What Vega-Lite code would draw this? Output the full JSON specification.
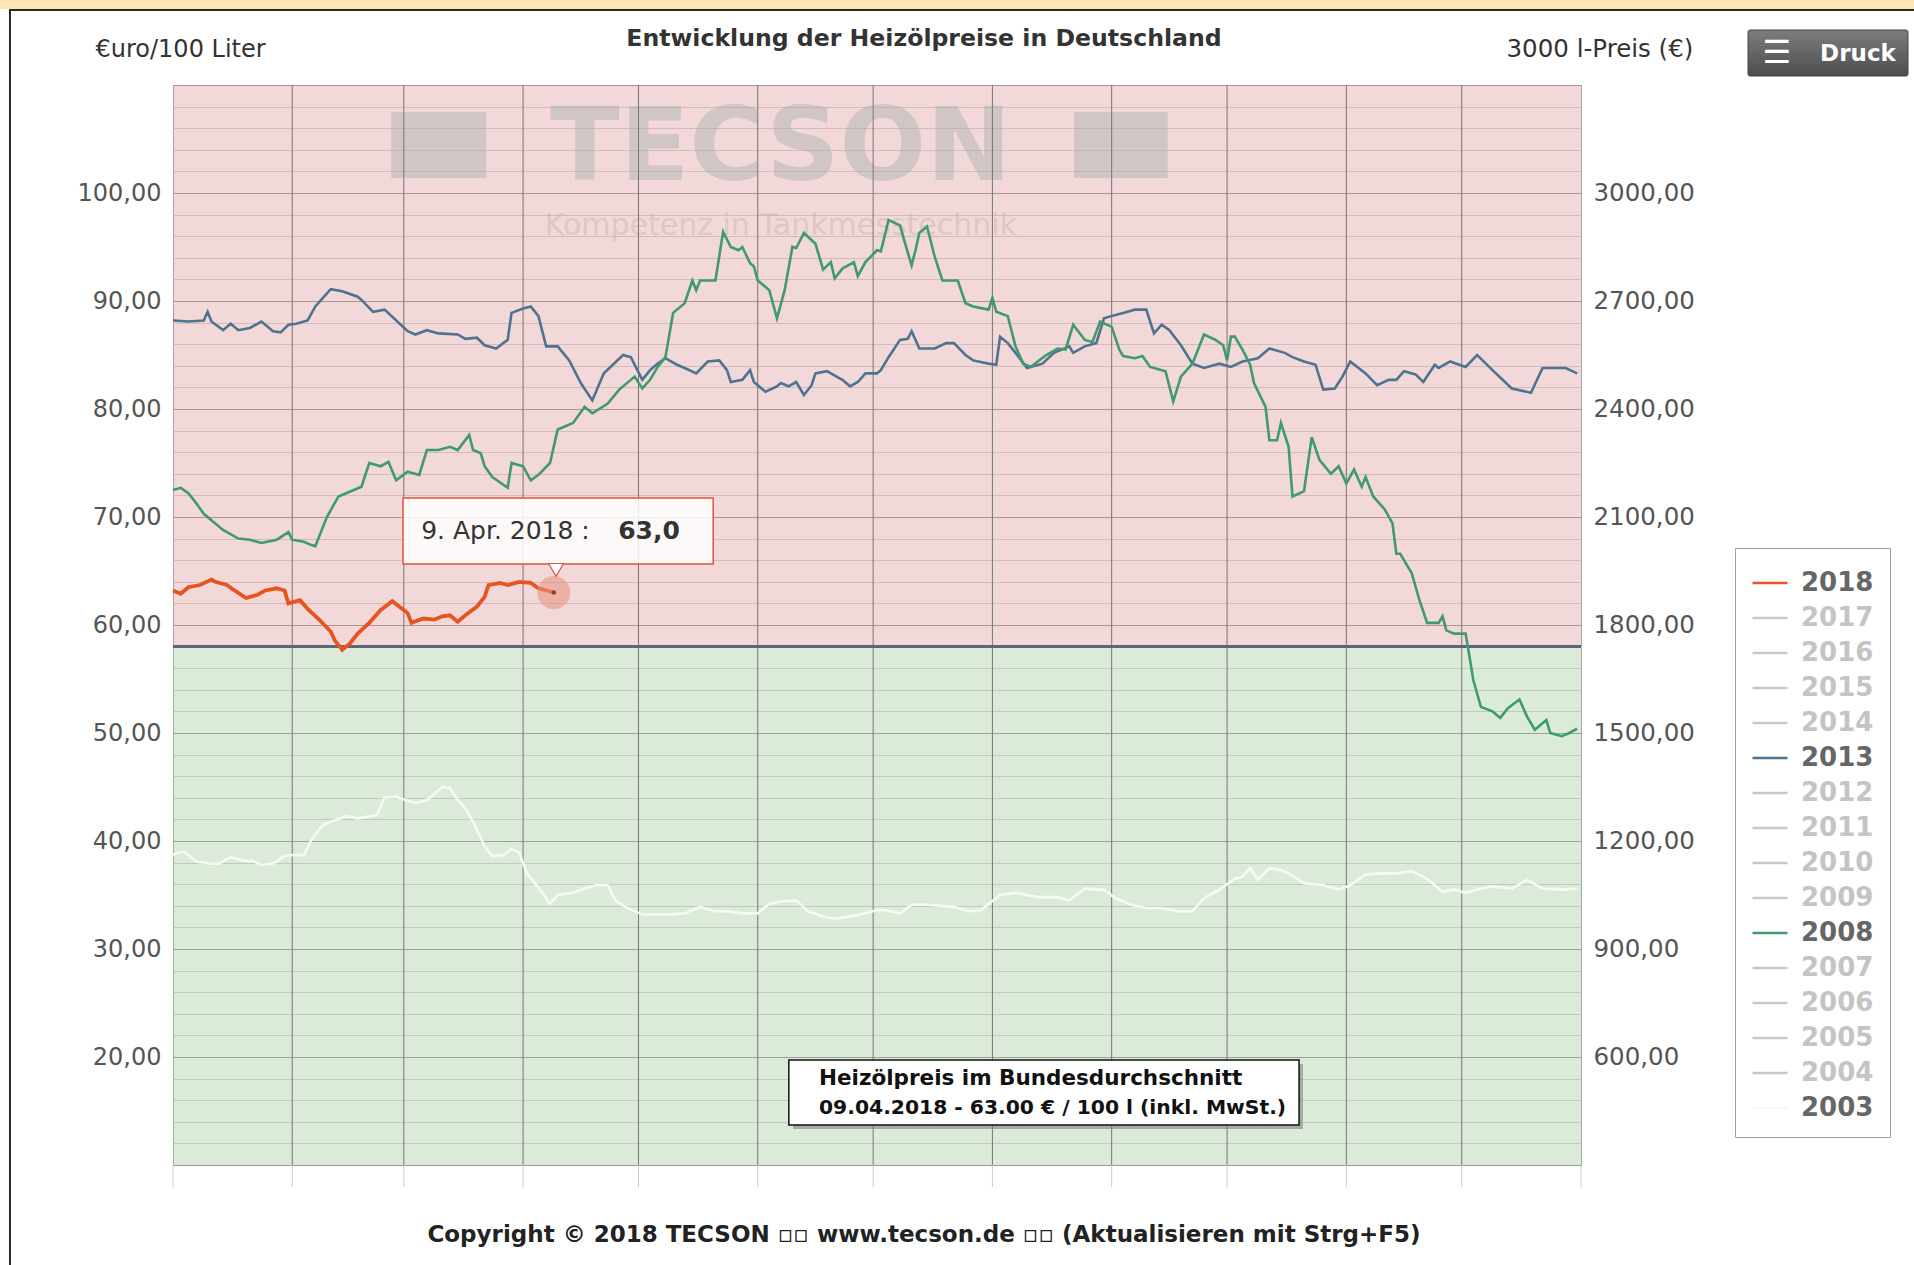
{
"$schema": "https://vega.github.io/schema/vega-lite/v6.json",
"width": 1408, "height": 1080,
"autosize": {"type": "none"},
"padding": {"left": 173, "top": 85, "right": 333, "bottom": 100},
"background": "#ffffff",
"config": {"view": {"stroke": "#a8a8a8", "strokeWidth": 1}, "font": "DejaVu Sans"},
"datasets": {"preise": [
{"jahr":"2018","tag":"2018/01/01","preis":63.2},{"jahr":"2018","tag":"2018/01/03","preis":62.9},{"jahr":"2018","tag":"2018/01/05","preis":63.5},{"jahr":"2018","tag":"2018/01/08","preis":63.7},{"jahr":"2018","tag":"2018/01/11","preis":64.2},{"jahr":"2018","tag":"2018/01/12","preis":64.0},{"jahr":"2018","tag":"2018/01/15","preis":63.7},{"jahr":"2018","tag":"2018/01/17","preis":63.2},{"jahr":"2018","tag":"2018/01/20","preis":62.5},{"jahr":"2018","tag":"2018/01/23","preis":62.8},{"jahr":"2018","tag":"2018/01/25","preis":63.2},{"jahr":"2018","tag":"2018/01/28","preis":63.4},{"jahr":"2018","tag":"2018/01/30","preis":63.2},{"jahr":"2018","tag":"2018/01/31","preis":62.0},{"jahr":"2018","tag":"2018/02/03","preis":62.3},{"jahr":"2018","tag":"2018/02/05","preis":61.5},{"jahr":"2018","tag":"2018/02/08","preis":60.5},{"jahr":"2018","tag":"2018/02/11","preis":59.4},{"jahr":"2018","tag":"2018/02/12","preis":58.6},{"jahr":"2018","tag":"2018/02/14","preis":57.7},{"jahr":"2018","tag":"2018/02/16","preis":58.3},{"jahr":"2018","tag":"2018/02/18","preis":59.2},{"jahr":"2018","tag":"2018/02/21","preis":60.2},{"jahr":"2018","tag":"2018/02/24","preis":61.4},{"jahr":"2018","tag":"2018/02/27","preis":62.2},{"jahr":"2018","tag":"2018/03/02","preis":61.1},{"jahr":"2018","tag":"2018/03/03","preis":60.2},{"jahr":"2018","tag":"2018/03/06","preis":60.6},{"jahr":"2018","tag":"2018/03/09","preis":60.5},{"jahr":"2018","tag":"2018/03/11","preis":60.8},{"jahr":"2018","tag":"2018/03/13","preis":60.9},{"jahr":"2018","tag":"2018/03/15","preis":60.3},{"jahr":"2018","tag":"2018/03/17","preis":60.9},{"jahr":"2018","tag":"2018/03/20","preis":61.7},{"jahr":"2018","tag":"2018/03/22","preis":62.6},{"jahr":"2018","tag":"2018/03/23","preis":63.7},{"jahr":"2018","tag":"2018/03/26","preis":63.9},{"jahr":"2018","tag":"2018/03/28","preis":63.7},{"jahr":"2018","tag":"2018/03/31","preis":64.0},{"jahr":"2018","tag":"2018/04/03","preis":63.9},{"jahr":"2018","tag":"2018/04/05","preis":63.4},{"jahr":"2018","tag":"2018/04/08","preis":63.1},{"jahr":"2018","tag":"2018/04/09","preis":63.0},
{"jahr":"2013","tag":"2013/01/01","preis":88.2},{"jahr":"2013","tag":"2013/01/05","preis":88.1},{"jahr":"2013","tag":"2013/01/09","preis":88.2},{"jahr":"2013","tag":"2013/01/10","preis":89.0},{"jahr":"2013","tag":"2013/01/11","preis":88.1},{"jahr":"2013","tag":"2013/01/14","preis":87.3},{"jahr":"2013","tag":"2013/01/16","preis":87.9},{"jahr":"2013","tag":"2013/01/18","preis":87.3},{"jahr":"2013","tag":"2013/01/21","preis":87.5},{"jahr":"2013","tag":"2013/01/24","preis":88.1},{"jahr":"2013","tag":"2013/01/27","preis":87.2},{"jahr":"2013","tag":"2013/01/29","preis":87.1},{"jahr":"2013","tag":"2013/01/31","preis":87.8},{"jahr":"2013","tag":"2013/02/02","preis":87.9},{"jahr":"2013","tag":"2013/02/05","preis":88.2},{"jahr":"2013","tag":"2013/02/07","preis":89.5},{"jahr":"2013","tag":"2013/02/11","preis":91.1},{"jahr":"2013","tag":"2013/02/14","preis":90.9},{"jahr":"2013","tag":"2013/02/18","preis":90.4},{"jahr":"2013","tag":"2013/02/19","preis":90.1},{"jahr":"2013","tag":"2013/02/22","preis":89.0},{"jahr":"2013","tag":"2013/02/25","preis":89.2},{"jahr":"2013","tag":"2013/03/02","preis":87.2},{"jahr":"2013","tag":"2013/03/04","preis":86.9},{"jahr":"2013","tag":"2013/03/07","preis":87.3},{"jahr":"2013","tag":"2013/03/10","preis":87.0},{"jahr":"2013","tag":"2013/03/15","preis":86.9},{"jahr":"2013","tag":"2013/03/17","preis":86.5},{"jahr":"2013","tag":"2013/03/20","preis":86.6},{"jahr":"2013","tag":"2013/03/22","preis":85.9},{"jahr":"2013","tag":"2013/03/25","preis":85.6},{"jahr":"2013","tag":"2013/03/28","preis":86.4},{"jahr":"2013","tag":"2013/03/29","preis":88.9},{"jahr":"2013","tag":"2013/04/01","preis":89.3},{"jahr":"2013","tag":"2013/04/03","preis":89.5},{"jahr":"2013","tag":"2013/04/05","preis":88.6},{"jahr":"2013","tag":"2013/04/07","preis":85.8},{"jahr":"2013","tag":"2013/04/10","preis":85.8},{"jahr":"2013","tag":"2013/04/13","preis":84.5},{"jahr":"2013","tag":"2013/04/16","preis":82.4},{"jahr":"2013","tag":"2013/04/19","preis":80.8},{"jahr":"2013","tag":"2013/04/22","preis":83.3},{"jahr":"2013","tag":"2013/04/27","preis":85.0},{"jahr":"2013","tag":"2013/04/29","preis":84.8},{"jahr":"2013","tag":"2013/05/02","preis":82.7},{"jahr":"2013","tag":"2013/05/04","preis":83.6},{"jahr":"2013","tag":"2013/05/06","preis":84.2},{"jahr":"2013","tag":"2013/05/08","preis":84.7},{"jahr":"2013","tag":"2013/05/11","preis":84.1},{"jahr":"2013","tag":"2013/05/13","preis":83.8},{"jahr":"2013","tag":"2013/05/16","preis":83.3},{"jahr":"2013","tag":"2013/05/19","preis":84.4},{"jahr":"2013","tag":"2013/05/22","preis":84.5},{"jahr":"2013","tag":"2013/05/24","preis":83.6},{"jahr":"2013","tag":"2013/05/25","preis":82.5},{"jahr":"2013","tag":"2013/05/28","preis":82.7},{"jahr":"2013","tag":"2013/05/30","preis":83.6},{"jahr":"2013","tag":"2013/05/31","preis":82.5},{"jahr":"2013","tag":"2013/06/03","preis":81.6},{"jahr":"2013","tag":"2013/06/06","preis":82.1},{"jahr":"2013","tag":"2013/06/07","preis":82.4},{"jahr":"2013","tag":"2013/06/09","preis":82.1},{"jahr":"2013","tag":"2013/06/11","preis":82.5},{"jahr":"2013","tag":"2013/06/13","preis":81.3},{"jahr":"2013","tag":"2013/06/15","preis":82.2},{"jahr":"2013","tag":"2013/06/16","preis":83.3},{"jahr":"2013","tag":"2013/06/19","preis":83.5},{"jahr":"2013","tag":"2013/06/20","preis":83.3},{"jahr":"2013","tag":"2013/06/23","preis":82.7},{"jahr":"2013","tag":"2013/06/25","preis":82.1},{"jahr":"2013","tag":"2013/06/27","preis":82.5},{"jahr":"2013","tag":"2013/06/29","preis":83.3},{"jahr":"2013","tag":"2013/07/02","preis":83.3},{"jahr":"2013","tag":"2013/07/03","preis":83.6},{"jahr":"2013","tag":"2013/07/05","preis":84.8},{"jahr":"2013","tag":"2013/07/08","preis":86.4},{"jahr":"2013","tag":"2013/07/10","preis":86.5},{"jahr":"2013","tag":"2013/07/11","preis":87.2},{"jahr":"2013","tag":"2013/07/13","preis":85.6},{"jahr":"2013","tag":"2013/07/15","preis":85.6},{"jahr":"2013","tag":"2013/07/17","preis":85.6},{"jahr":"2013","tag":"2013/07/20","preis":86.1},{"jahr":"2013","tag":"2013/07/22","preis":86.1},{"jahr":"2013","tag":"2013/07/25","preis":85.0},{"jahr":"2013","tag":"2013/07/27","preis":84.5},{"jahr":"2013","tag":"2013/07/31","preis":84.2},{"jahr":"2013","tag":"2013/08/02","preis":84.1},{"jahr":"2013","tag":"2013/08/03","preis":86.7},{"jahr":"2013","tag":"2013/08/05","preis":86.1},{"jahr":"2013","tag":"2013/08/07","preis":85.2},{"jahr":"2013","tag":"2013/08/10","preis":83.8},{"jahr":"2013","tag":"2013/08/14","preis":84.2},{"jahr":"2013","tag":"2013/08/17","preis":85.2},{"jahr":"2013","tag":"2013/08/21","preis":85.8},{"jahr":"2013","tag":"2013/08/22","preis":85.2},{"jahr":"2013","tag":"2013/08/25","preis":85.8},{"jahr":"2013","tag":"2013/08/28","preis":86.1},{"jahr":"2013","tag":"2013/08/30","preis":88.4},{"jahr":"2013","tag":"2013/09/01","preis":88.6},{"jahr":"2013","tag":"2013/09/04","preis":88.9},{"jahr":"2013","tag":"2013/09/07","preis":89.2},{"jahr":"2013","tag":"2013/09/10","preis":89.2},{"jahr":"2013","tag":"2013/09/12","preis":87.0},{"jahr":"2013","tag":"2013/09/14","preis":87.8},{"jahr":"2013","tag":"2013/09/16","preis":87.3},{"jahr":"2013","tag":"2013/09/19","preis":85.9},{"jahr":"2013","tag":"2013/09/22","preis":84.2},{"jahr":"2013","tag":"2013/09/25","preis":83.8},{"jahr":"2013","tag":"2013/09/29","preis":84.2},{"jahr":"2013","tag":"2013/10/02","preis":83.9},{"jahr":"2013","tag":"2013/10/05","preis":84.4},{"jahr":"2013","tag":"2013/10/09","preis":84.7},{"jahr":"2013","tag":"2013/10/12","preis":85.6},{"jahr":"2013","tag":"2013/10/16","preis":85.2},{"jahr":"2013","tag":"2013/10/18","preis":84.8},{"jahr":"2013","tag":"2013/10/21","preis":84.4},{"jahr":"2013","tag":"2013/10/24","preis":84.1},{"jahr":"2013","tag":"2013/10/26","preis":81.8},{"jahr":"2013","tag":"2013/10/29","preis":81.9},{"jahr":"2013","tag":"2013/10/31","preis":83.0},{"jahr":"2013","tag":"2013/11/02","preis":84.4},{"jahr":"2013","tag":"2013/11/06","preis":83.3},{"jahr":"2013","tag":"2013/11/09","preis":82.2},{"jahr":"2013","tag":"2013/11/12","preis":82.7},{"jahr":"2013","tag":"2013/11/14","preis":82.7},{"jahr":"2013","tag":"2013/11/16","preis":83.5},{"jahr":"2013","tag":"2013/11/19","preis":83.2},{"jahr":"2013","tag":"2013/11/21","preis":82.5},{"jahr":"2013","tag":"2013/11/24","preis":84.1},{"jahr":"2013","tag":"2013/11/25","preis":83.8},{"jahr":"2013","tag":"2013/11/28","preis":84.4},{"jahr":"2013","tag":"2013/12/02","preis":83.9},{"jahr":"2013","tag":"2013/12/05","preis":85.0},{"jahr":"2013","tag":"2013/12/09","preis":83.6},{"jahr":"2013","tag":"2013/12/14","preis":81.9},{"jahr":"2013","tag":"2013/12/19","preis":81.5},{"jahr":"2013","tag":"2013/12/22","preis":83.8},{"jahr":"2013","tag":"2013/12/28","preis":83.8},{"jahr":"2013","tag":"2013/12/31","preis":83.3},
{"jahr":"2008","tag":"2008/01/01","preis":72.5},{"jahr":"2008","tag":"2008/01/03","preis":72.7},{"jahr":"2008","tag":"2008/01/05","preis":72.2},{"jahr":"2008","tag":"2008/01/07","preis":71.3},{"jahr":"2008","tag":"2008/01/09","preis":70.3},{"jahr":"2008","tag":"2008/01/12","preis":69.4},{"jahr":"2008","tag":"2008/01/14","preis":68.8},{"jahr":"2008","tag":"2008/01/18","preis":68.0},{"jahr":"2008","tag":"2008/01/21","preis":67.9},{"jahr":"2008","tag":"2008/01/24","preis":67.6},{"jahr":"2008","tag":"2008/01/28","preis":67.9},{"jahr":"2008","tag":"2008/01/31","preis":68.6},{"jahr":"2008","tag":"2008/02/01","preis":67.9},{"jahr":"2008","tag":"2008/02/04","preis":67.7},{"jahr":"2008","tag":"2008/02/06","preis":67.4},{"jahr":"2008","tag":"2008/02/07","preis":67.3},{"jahr":"2008","tag":"2008/02/10","preis":70.0},{"jahr":"2008","tag":"2008/02/13","preis":71.9},{"jahr":"2008","tag":"2008/02/17","preis":72.5},{"jahr":"2008","tag":"2008/02/19","preis":72.8},{"jahr":"2008","tag":"2008/02/21","preis":75.0},{"jahr":"2008","tag":"2008/02/24","preis":74.7},{"jahr":"2008","tag":"2008/02/26","preis":75.1},{"jahr":"2008","tag":"2008/02/28","preis":73.4},{"jahr":"2008","tag":"2008/03/02","preis":74.2},{"jahr":"2008","tag":"2008/03/05","preis":73.9},{"jahr":"2008","tag":"2008/03/07","preis":76.2},{"jahr":"2008","tag":"2008/03/10","preis":76.2},{"jahr":"2008","tag":"2008/03/13","preis":76.5},{"jahr":"2008","tag":"2008/03/15","preis":76.2},{"jahr":"2008","tag":"2008/03/18","preis":77.6},{"jahr":"2008","tag":"2008/03/19","preis":76.2},{"jahr":"2008","tag":"2008/03/21","preis":75.9},{"jahr":"2008","tag":"2008/03/22","preis":74.7},{"jahr":"2008","tag":"2008/03/24","preis":73.7},{"jahr":"2008","tag":"2008/03/28","preis":72.7},{"jahr":"2008","tag":"2008/03/29","preis":75.0},{"jahr":"2008","tag":"2008/04/01","preis":74.7},{"jahr":"2008","tag":"2008/04/03","preis":73.4},{"jahr":"2008","tag":"2008/04/05","preis":73.9},{"jahr":"2008","tag":"2008/04/08","preis":75.0},{"jahr":"2008","tag":"2008/04/10","preis":78.1},{"jahr":"2008","tag":"2008/04/14","preis":78.7},{"jahr":"2008","tag":"2008/04/17","preis":80.2},{"jahr":"2008","tag":"2008/04/19","preis":79.6},{"jahr":"2008","tag":"2008/04/23","preis":80.5},{"jahr":"2008","tag":"2008/04/26","preis":81.8},{"jahr":"2008","tag":"2008/04/30","preis":83.0},{"jahr":"2008","tag":"2008/05/02","preis":81.9},{"jahr":"2008","tag":"2008/05/04","preis":82.7},{"jahr":"2008","tag":"2008/05/06","preis":83.9},{"jahr":"2008","tag":"2008/05/08","preis":84.8},{"jahr":"2008","tag":"2008/05/10","preis":88.9},{"jahr":"2008","tag":"2008/05/13","preis":89.8},{"jahr":"2008","tag":"2008/05/15","preis":91.9},{"jahr":"2008","tag":"2008/05/16","preis":91.0},{"jahr":"2008","tag":"2008/05/17","preis":91.9},{"jahr":"2008","tag":"2008/05/21","preis":91.9},{"jahr":"2008","tag":"2008/05/23","preis":96.4},{"jahr":"2008","tag":"2008/05/25","preis":95.0},{"jahr":"2008","tag":"2008/05/27","preis":94.7},{"jahr":"2008","tag":"2008/05/28","preis":95.0},{"jahr":"2008","tag":"2008/05/30","preis":93.5},{"jahr":"2008","tag":"2008/05/31","preis":93.2},{"jahr":"2008","tag":"2008/06/01","preis":91.9},{"jahr":"2008","tag":"2008/06/04","preis":91.0},{"jahr":"2008","tag":"2008/06/06","preis":88.4},{"jahr":"2008","tag":"2008/06/08","preis":91.0},{"jahr":"2008","tag":"2008/06/10","preis":95.0},{"jahr":"2008","tag":"2008/06/11","preis":94.9},{"jahr":"2008","tag":"2008/06/13","preis":96.3},{"jahr":"2008","tag":"2008/06/16","preis":95.3},{"jahr":"2008","tag":"2008/06/18","preis":92.9},{"jahr":"2008","tag":"2008/06/20","preis":93.6},{"jahr":"2008","tag":"2008/06/21","preis":92.1},{"jahr":"2008","tag":"2008/06/23","preis":93.0},{"jahr":"2008","tag":"2008/06/26","preis":93.6},{"jahr":"2008","tag":"2008/06/27","preis":92.3},{"jahr":"2008","tag":"2008/06/29","preis":93.6},{"jahr":"2008","tag":"2008/07/02","preis":94.7},{"jahr":"2008","tag":"2008/07/03","preis":94.6},{"jahr":"2008","tag":"2008/07/05","preis":97.5},{"jahr":"2008","tag":"2008/07/08","preis":97.0},{"jahr":"2008","tag":"2008/07/09","preis":95.7},{"jahr":"2008","tag":"2008/07/11","preis":93.3},{"jahr":"2008","tag":"2008/07/12","preis":94.7},{"jahr":"2008","tag":"2008/07/13","preis":96.3},{"jahr":"2008","tag":"2008/07/15","preis":96.9},{"jahr":"2008","tag":"2008/07/17","preis":94.1},{"jahr":"2008","tag":"2008/07/19","preis":91.9},{"jahr":"2008","tag":"2008/07/23","preis":91.9},{"jahr":"2008","tag":"2008/07/25","preis":89.8},{"jahr":"2008","tag":"2008/07/27","preis":89.5},{"jahr":"2008","tag":"2008/07/31","preis":89.2},{"jahr":"2008","tag":"2008/08/01","preis":90.3},{"jahr":"2008","tag":"2008/08/02","preis":89.0},{"jahr":"2008","tag":"2008/08/05","preis":88.6},{"jahr":"2008","tag":"2008/08/07","preis":85.8},{"jahr":"2008","tag":"2008/08/09","preis":84.2},{"jahr":"2008","tag":"2008/08/11","preis":83.9},{"jahr":"2008","tag":"2008/08/15","preis":85.0},{"jahr":"2008","tag":"2008/08/18","preis":85.6},{"jahr":"2008","tag":"2008/08/20","preis":85.5},{"jahr":"2008","tag":"2008/08/22","preis":87.8},{"jahr":"2008","tag":"2008/08/25","preis":86.4},{"jahr":"2008","tag":"2008/08/27","preis":86.2},{"jahr":"2008","tag":"2008/08/29","preis":88.1},{"jahr":"2008","tag":"2008/09/01","preis":87.6},{"jahr":"2008","tag":"2008/09/03","preis":85.5},{"jahr":"2008","tag":"2008/09/04","preis":84.9},{"jahr":"2008","tag":"2008/09/07","preis":84.7},{"jahr":"2008","tag":"2008/09/09","preis":84.9},{"jahr":"2008","tag":"2008/09/11","preis":83.9},{"jahr":"2008","tag":"2008/09/15","preis":83.5},{"jahr":"2008","tag":"2008/09/17","preis":80.7},{"jahr":"2008","tag":"2008/09/19","preis":83.0},{"jahr":"2008","tag":"2008/09/22","preis":84.2},{"jahr":"2008","tag":"2008/09/25","preis":86.9},{"jahr":"2008","tag":"2008/09/28","preis":86.4},{"jahr":"2008","tag":"2008/09/30","preis":85.9},{"jahr":"2008","tag":"2008/10/01","preis":84.5},{"jahr":"2008","tag":"2008/10/02","preis":86.7},{"jahr":"2008","tag":"2008/10/03","preis":86.7},{"jahr":"2008","tag":"2008/10/05","preis":85.5},{"jahr":"2008","tag":"2008/10/07","preis":84.1},{"jahr":"2008","tag":"2008/10/08","preis":82.4},{"jahr":"2008","tag":"2008/10/11","preis":80.2},{"jahr":"2008","tag":"2008/10/12","preis":77.1},{"jahr":"2008","tag":"2008/10/14","preis":77.1},{"jahr":"2008","tag":"2008/10/15","preis":78.7},{"jahr":"2008","tag":"2008/10/17","preis":76.5},{"jahr":"2008","tag":"2008/10/18","preis":71.9},{"jahr":"2008","tag":"2008/10/21","preis":72.4},{"jahr":"2008","tag":"2008/10/23","preis":77.4},{"jahr":"2008","tag":"2008/10/25","preis":75.3},{"jahr":"2008","tag":"2008/10/28","preis":74.0},{"jahr":"2008","tag":"2008/10/30","preis":74.7},{"jahr":"2008","tag":"2008/11/01","preis":73.1},{"jahr":"2008","tag":"2008/11/03","preis":74.4},{"jahr":"2008","tag":"2008/11/05","preis":72.8},{"jahr":"2008","tag":"2008/11/06","preis":73.7},{"jahr":"2008","tag":"2008/11/08","preis":71.9},{"jahr":"2008","tag":"2008/11/11","preis":70.7},{"jahr":"2008","tag":"2008/11/13","preis":69.4},{"jahr":"2008","tag":"2008/11/14","preis":66.6},{"jahr":"2008","tag":"2008/11/15","preis":66.6},{"jahr":"2008","tag":"2008/11/18","preis":64.8},{"jahr":"2008","tag":"2008/11/20","preis":62.3},{"jahr":"2008","tag":"2008/11/22","preis":60.2},{"jahr":"2008","tag":"2008/11/25","preis":60.2},{"jahr":"2008","tag":"2008/11/26","preis":60.8},{"jahr":"2008","tag":"2008/11/27","preis":59.5},{"jahr":"2008","tag":"2008/11/29","preis":59.2},{"jahr":"2008","tag":"2008/12/02","preis":59.2},{"jahr":"2008","tag":"2008/12/03","preis":57.1},{"jahr":"2008","tag":"2008/12/04","preis":54.9},{"jahr":"2008","tag":"2008/12/06","preis":52.4},{"jahr":"2008","tag":"2008/12/09","preis":52.0},{"jahr":"2008","tag":"2008/12/11","preis":51.4},{"jahr":"2008","tag":"2008/12/13","preis":52.3},{"jahr":"2008","tag":"2008/12/16","preis":53.1},{"jahr":"2008","tag":"2008/12/18","preis":51.5},{"jahr":"2008","tag":"2008/12/20","preis":50.3},{"jahr":"2008","tag":"2008/12/23","preis":51.2},{"jahr":"2008","tag":"2008/12/24","preis":50.0},{"jahr":"2008","tag":"2008/12/27","preis":49.7},{"jahr":"2008","tag":"2008/12/29","preis":50.0},{"jahr":"2008","tag":"2008/12/31","preis":50.4},
{"jahr":"2003","tag":"2003/01/01","preis":38.7},{"jahr":"2003","tag":"2003/01/02","preis":38.9},{"jahr":"2003","tag":"2003/01/04","preis":39.0},{"jahr":"2003","tag":"2003/01/07","preis":38.1},{"jahr":"2003","tag":"2003/01/11","preis":37.9},{"jahr":"2003","tag":"2003/01/13","preis":37.9},{"jahr":"2003","tag":"2003/01/16","preis":38.5},{"jahr":"2003","tag":"2003/01/19","preis":38.2},{"jahr":"2003","tag":"2003/01/22","preis":38.1},{"jahr":"2003","tag":"2003/01/24","preis":37.8},{"jahr":"2003","tag":"2003/01/27","preis":37.9},{"jahr":"2003","tag":"2003/01/30","preis":38.6},{"jahr":"2003","tag":"2003/02/01","preis":38.7},{"jahr":"2003","tag":"2003/02/04","preis":38.7},{"jahr":"2003","tag":"2003/02/06","preis":40.1},{"jahr":"2003","tag":"2003/02/09","preis":41.5},{"jahr":"2003","tag":"2003/02/12","preis":41.9},{"jahr":"2003","tag":"2003/02/15","preis":42.3},{"jahr":"2003","tag":"2003/02/18","preis":42.1},{"jahr":"2003","tag":"2003/02/23","preis":42.4},{"jahr":"2003","tag":"2003/02/25","preis":44.0},{"jahr":"2003","tag":"2003/02/28","preis":44.1},{"jahr":"2003","tag":"2003/03/04","preis":43.5},{"jahr":"2003","tag":"2003/03/07","preis":43.8},{"jahr":"2003","tag":"2003/03/11","preis":45.0},{"jahr":"2003","tag":"2003/03/13","preis":44.9},{"jahr":"2003","tag":"2003/03/15","preis":43.8},{"jahr":"2003","tag":"2003/03/17","preis":43.0},{"jahr":"2003","tag":"2003/03/19","preis":41.8},{"jahr":"2003","tag":"2003/03/22","preis":39.5},{"jahr":"2003","tag":"2003/03/24","preis":38.6},{"jahr":"2003","tag":"2003/03/27","preis":38.7},{"jahr":"2003","tag":"2003/03/29","preis":39.3},{"jahr":"2003","tag":"2003/03/31","preis":38.9},{"jahr":"2003","tag":"2003/04/02","preis":37.0},{"jahr":"2003","tag":"2003/04/06","preis":35.2},{"jahr":"2003","tag":"2003/04/08","preis":34.2},{"jahr":"2003","tag":"2003/04/10","preis":35.0},{"jahr":"2003","tag":"2003/04/14","preis":35.2},{"jahr":"2003","tag":"2003/04/17","preis":35.6},{"jahr":"2003","tag":"2003/04/20","preis":35.9},{"jahr":"2003","tag":"2003/04/23","preis":35.9},{"jahr":"2003","tag":"2003/04/25","preis":34.5},{"jahr":"2003","tag":"2003/04/28","preis":33.8},{"jahr":"2003","tag":"2003/05/02","preis":33.2},{"jahr":"2003","tag":"2003/05/05","preis":33.2},{"jahr":"2003","tag":"2003/05/09","preis":33.2},{"jahr":"2003","tag":"2003/05/13","preis":33.3},{"jahr":"2003","tag":"2003/05/17","preis":33.9},{"jahr":"2003","tag":"2003/05/21","preis":33.5},{"jahr":"2003","tag":"2003/05/24","preis":33.5},{"jahr":"2003","tag":"2003/05/28","preis":33.3},{"jahr":"2003","tag":"2003/06/01","preis":33.3},{"jahr":"2003","tag":"2003/06/04","preis":34.2},{"jahr":"2003","tag":"2003/06/07","preis":34.4},{"jahr":"2003","tag":"2003/06/11","preis":34.5},{"jahr":"2003","tag":"2003/06/14","preis":33.5},{"jahr":"2003","tag":"2003/06/18","preis":33.0},{"jahr":"2003","tag":"2003/06/21","preis":32.8},{"jahr":"2003","tag":"2003/06/25","preis":33.0},{"jahr":"2003","tag":"2003/06/29","preis":33.3},{"jahr":"2003","tag":"2003/07/02","preis":33.6},{"jahr":"2003","tag":"2003/07/04","preis":33.6},{"jahr":"2003","tag":"2003/07/08","preis":33.3},{"jahr":"2003","tag":"2003/07/11","preis":34.1},{"jahr":"2003","tag":"2003/07/15","preis":34.1},{"jahr":"2003","tag":"2003/07/22","preis":33.9},{"jahr":"2003","tag":"2003/07/26","preis":33.5},{"jahr":"2003","tag":"2003/07/29","preis":33.6},{"jahr":"2003","tag":"2003/08/03","preis":35.0},{"jahr":"2003","tag":"2003/08/07","preis":35.2},{"jahr":"2003","tag":"2003/08/13","preis":34.8},{"jahr":"2003","tag":"2003/08/18","preis":34.8},{"jahr":"2003","tag":"2003/08/21","preis":34.5},{"jahr":"2003","tag":"2003/08/25","preis":35.6},{"jahr":"2003","tag":"2003/08/28","preis":35.5},{"jahr":"2003","tag":"2003/08/30","preis":35.5},{"jahr":"2003","tag":"2003/09/02","preis":34.7},{"jahr":"2003","tag":"2003/09/06","preis":34.1},{"jahr":"2003","tag":"2003/09/10","preis":33.8},{"jahr":"2003","tag":"2003/09/14","preis":33.8},{"jahr":"2003","tag":"2003/09/18","preis":33.5},{"jahr":"2003","tag":"2003/09/22","preis":33.5},{"jahr":"2003","tag":"2003/09/25","preis":34.7},{"jahr":"2003","tag":"2003/09/29","preis":35.5},{"jahr":"2003","tag":"2003/10/03","preis":36.5},{"jahr":"2003","tag":"2003/10/05","preis":36.7},{"jahr":"2003","tag":"2003/10/07","preis":37.5},{"jahr":"2003","tag":"2003/10/09","preis":36.4},{"jahr":"2003","tag":"2003/10/12","preis":37.5},{"jahr":"2003","tag":"2003/10/15","preis":37.3},{"jahr":"2003","tag":"2003/10/17","preis":37.0},{"jahr":"2003","tag":"2003/10/21","preis":36.1},{"jahr":"2003","tag":"2003/10/26","preis":35.9},{"jahr":"2003","tag":"2003/10/30","preis":35.5},{"jahr":"2003","tag":"2003/11/02","preis":35.9},{"jahr":"2003","tag":"2003/11/06","preis":36.9},{"jahr":"2003","tag":"2003/11/10","preis":37.0},{"jahr":"2003","tag":"2003/11/14","preis":37.0},{"jahr":"2003","tag":"2003/11/18","preis":37.2},{"jahr":"2003","tag":"2003/11/22","preis":36.5},{"jahr":"2003","tag":"2003/11/26","preis":35.3},{"jahr":"2003","tag":"2003/11/29","preis":35.5},{"jahr":"2003","tag":"2003/12/02","preis":35.2},{"jahr":"2003","tag":"2003/12/06","preis":35.6},{"jahr":"2003","tag":"2003/12/09","preis":35.8},{"jahr":"2003","tag":"2003/12/14","preis":35.6},{"jahr":"2003","tag":"2003/12/18","preis":36.4},{"jahr":"2003","tag":"2003/12/22","preis":35.6},{"jahr":"2003","tag":"2003/12/28","preis":35.5},{"jahr":"2003","tag":"2003/12/31","preis":35.6}
]},
"resolve": {"axis": {"y": "independent"}},
"layer": [
{"data": {"values": [{}]}, "mark": {"type": "rect", "fill": "#FDE6B6"},
 "encoding": {
  "x": {"datum": {"year": 2011, "month": 11, "date": 14}, "type": "temporal", "axis": null, "scale": {"domain": [{"month": 1, "date": 1}, {"year": 2013, "month": 1, "date": 1}], "nice": false}},
  "x2": {"datum": {"year": 2013, "month": 4, "date": 1, "hours": 17}},
  "y": {"datum": 118.8, "type": "quantitative", "axis": null, "scale": {"domain": [10, 110], "nice": false, "zero": false}},
  "y2": {"datum": 117.04}}},
{"data": {"values": [{}]}, "mark": {"type": "rect", "fill": "#ffffff", "fillOpacity": 0, "stroke": "#2a2a2a", "strokeWidth": 2},
 "encoding": {
  "x": {"datum": {"year": 2011, "month": 11, "date": 19, "hours": 15}, "type": "temporal", "axis": null},
  "x2": {"datum": {"year": 2013, "month": 4, "date": 1, "hours": 17}},
  "y": {"datum": 116.94, "type": "quantitative", "axis": null},
  "y2": {"datum": -0.65}}},
{"data": {"values": [{}]}, "mark": {"type": "rect", "fill": "#D47D7D", "fillOpacity": 0.3},
 "encoding": {
  "x": {"datum": {"month": 1, "date": 1}, "type": "temporal", "axis": null},
  "x2": {"datum": {"year": 2013, "month": 1, "date": 1}},
  "y": {"datum": 110, "type": "quantitative", "axis": null},
  "y2": {"datum": 58}}},
{"data": {"values": [{}]}, "mark": {"type": "rect", "fill": "#8ABC80", "fillOpacity": 0.3},
 "encoding": {
  "x": {"datum": {"month": 1, "date": 1}, "type": "temporal", "axis": null},
  "x2": {"datum": {"year": 2013, "month": 1, "date": 1}},
  "y": {"datum": 58, "type": "quantitative", "axis": null},
  "y2": {"datum": 10}}},
{"data": {"values": [{}]}, "mark": {"type": "rect", "fill": "#a9b1b1", "fillOpacity": 0.45},
 "encoding": {
  "x": {"datum": {"month": 2, "date": 26, "hours": 17}, "type": "temporal", "axis": null},
  "x2": {"datum": {"month": 3, "date": 22, "hours": 10}},
  "y": {"datum": 107.5, "type": "quantitative", "axis": null},
  "y2": {"datum": 101.4}}},
{"data": {"values": [{}]}, "mark": {"type": "rect", "fill": "#a9b1b1", "fillOpacity": 0.45},
 "encoding": {
  "x": {"datum": {"month": 8, "date": 22, "hours": 5}, "type": "temporal", "axis": null},
  "x2": {"datum": {"month": 9, "date": 15, "hours": 14}},
  "y": {"datum": 107.5, "type": "quantitative", "axis": null},
  "y2": {"datum": 101.4}}},
{"data": {"values": [{}]}, "mark": {"type": "text", "text": "TECSON", "font": "DejaVu Sans", "fontWeight": "bold", "fontSize": 102, "fill": "#a9b1b1", "opacity": 0.45, "align": "center", "baseline": "alphabetic"},
 "encoding": {
  "x": {"datum": {"month": 6, "date": 7}, "type": "temporal", "axis": null},
  "y": {"datum": 101.2, "type": "quantitative", "axis": null}}},
{"data": {"values": [{}]}, "mark": {"type": "text", "text": "Kompetenz in Tankmesstechnik", "font": "DejaVu Sans", "fontSize": 30, "fill": "#b9a9a9", "opacity": 0.35, "align": "center", "baseline": "middle"},
 "encoding": {
  "x": {"datum": {"month": 6, "date": 7}, "type": "temporal", "axis": null},
  "y": {"datum": 96.95, "type": "quantitative", "axis": null}}},
{"data": {"values": [{}]}, "mark": {"type": "rule", "stroke": "#757575", "strokeWidth": 1}, "encoding": {"x": {"datum": {"month": 2, "date": 1}, "type": "temporal", "axis": null}, "y": {"datum": 110, "type": "quantitative", "axis": null}, "y2": {"datum": 10}}},
{"data": {"values": [{}]}, "mark": {"type": "rule", "stroke": "#757575", "strokeWidth": 1}, "encoding": {"x": {"datum": {"month": 3, "date": 1}, "type": "temporal", "axis": null}, "y": {"datum": 110, "type": "quantitative", "axis": null}, "y2": {"datum": 10}}},
{"data": {"values": [{}]}, "mark": {"type": "rule", "stroke": "#757575", "strokeWidth": 1}, "encoding": {"x": {"datum": {"month": 4, "date": 1}, "type": "temporal", "axis": null}, "y": {"datum": 110, "type": "quantitative", "axis": null}, "y2": {"datum": 10}}},
{"data": {"values": [{}]}, "mark": {"type": "rule", "stroke": "#757575", "strokeWidth": 1}, "encoding": {"x": {"datum": {"month": 5, "date": 1}, "type": "temporal", "axis": null}, "y": {"datum": 110, "type": "quantitative", "axis": null}, "y2": {"datum": 10}}},
{"data": {"values": [{}]}, "mark": {"type": "rule", "stroke": "#757575", "strokeWidth": 1}, "encoding": {"x": {"datum": {"month": 6, "date": 1}, "type": "temporal", "axis": null}, "y": {"datum": 110, "type": "quantitative", "axis": null}, "y2": {"datum": 10}}},
{"data": {"values": [{}]}, "mark": {"type": "rule", "stroke": "#757575", "strokeWidth": 1}, "encoding": {"x": {"datum": {"month": 7, "date": 1}, "type": "temporal", "axis": null}, "y": {"datum": 110, "type": "quantitative", "axis": null}, "y2": {"datum": 10}}},
{"data": {"values": [{}]}, "mark": {"type": "rule", "stroke": "#757575", "strokeWidth": 1}, "encoding": {"x": {"datum": {"month": 8, "date": 1}, "type": "temporal", "axis": null}, "y": {"datum": 110, "type": "quantitative", "axis": null}, "y2": {"datum": 10}}},
{"data": {"values": [{}]}, "mark": {"type": "rule", "stroke": "#757575", "strokeWidth": 1}, "encoding": {"x": {"datum": {"month": 9, "date": 1}, "type": "temporal", "axis": null}, "y": {"datum": 110, "type": "quantitative", "axis": null}, "y2": {"datum": 10}}},
{"data": {"values": [{}]}, "mark": {"type": "rule", "stroke": "#757575", "strokeWidth": 1}, "encoding": {"x": {"datum": {"month": 10, "date": 1}, "type": "temporal", "axis": null}, "y": {"datum": 110, "type": "quantitative", "axis": null}, "y2": {"datum": 10}}},
{"data": {"values": [{}]}, "mark": {"type": "rule", "stroke": "#757575", "strokeWidth": 1}, "encoding": {"x": {"datum": {"month": 11, "date": 1}, "type": "temporal", "axis": null}, "y": {"datum": 110, "type": "quantitative", "axis": null}, "y2": {"datum": 10}}},
{"data": {"values": [{}]}, "mark": {"type": "rule", "stroke": "#757575", "strokeWidth": 1}, "encoding": {"x": {"datum": {"month": 12, "date": 1}, "type": "temporal", "axis": null}, "y": {"datum": 110, "type": "quantitative", "axis": null}, "y2": {"datum": 10}}},
{"data": {"values": [{}]}, "mark": {"type": "rule", "stroke": "#cccccc", "strokeWidth": 1}, "encoding": {"x": {"datum": {"month": 1, "date": 1}, "type": "temporal", "axis": null}, "y": {"datum": 10, "type": "quantitative", "axis": null}, "y2": {"datum": 7.96}}},
{"data": {"values": [{}]}, "mark": {"type": "rule", "stroke": "#cccccc", "strokeWidth": 1}, "encoding": {"x": {"datum": {"month": 2, "date": 1}, "type": "temporal", "axis": null}, "y": {"datum": 10, "type": "quantitative", "axis": null}, "y2": {"datum": 7.96}}},
{"data": {"values": [{}]}, "mark": {"type": "rule", "stroke": "#cccccc", "strokeWidth": 1}, "encoding": {"x": {"datum": {"month": 3, "date": 1}, "type": "temporal", "axis": null}, "y": {"datum": 10, "type": "quantitative", "axis": null}, "y2": {"datum": 7.96}}},
{"data": {"values": [{}]}, "mark": {"type": "rule", "stroke": "#cccccc", "strokeWidth": 1}, "encoding": {"x": {"datum": {"month": 4, "date": 1}, "type": "temporal", "axis": null}, "y": {"datum": 10, "type": "quantitative", "axis": null}, "y2": {"datum": 7.96}}},
{"data": {"values": [{}]}, "mark": {"type": "rule", "stroke": "#cccccc", "strokeWidth": 1}, "encoding": {"x": {"datum": {"month": 5, "date": 1}, "type": "temporal", "axis": null}, "y": {"datum": 10, "type": "quantitative", "axis": null}, "y2": {"datum": 7.96}}},
{"data": {"values": [{}]}, "mark": {"type": "rule", "stroke": "#cccccc", "strokeWidth": 1}, "encoding": {"x": {"datum": {"month": 6, "date": 1}, "type": "temporal", "axis": null}, "y": {"datum": 10, "type": "quantitative", "axis": null}, "y2": {"datum": 7.96}}},
{"data": {"values": [{}]}, "mark": {"type": "rule", "stroke": "#cccccc", "strokeWidth": 1}, "encoding": {"x": {"datum": {"month": 7, "date": 1}, "type": "temporal", "axis": null}, "y": {"datum": 10, "type": "quantitative", "axis": null}, "y2": {"datum": 7.96}}},
{"data": {"values": [{}]}, "mark": {"type": "rule", "stroke": "#cccccc", "strokeWidth": 1}, "encoding": {"x": {"datum": {"month": 8, "date": 1}, "type": "temporal", "axis": null}, "y": {"datum": 10, "type": "quantitative", "axis": null}, "y2": {"datum": 7.96}}},
{"data": {"values": [{}]}, "mark": {"type": "rule", "stroke": "#cccccc", "strokeWidth": 1}, "encoding": {"x": {"datum": {"month": 9, "date": 1}, "type": "temporal", "axis": null}, "y": {"datum": 10, "type": "quantitative", "axis": null}, "y2": {"datum": 7.96}}},
{"data": {"values": [{}]}, "mark": {"type": "rule", "stroke": "#cccccc", "strokeWidth": 1}, "encoding": {"x": {"datum": {"month": 10, "date": 1}, "type": "temporal", "axis": null}, "y": {"datum": 10, "type": "quantitative", "axis": null}, "y2": {"datum": 7.96}}},
{"data": {"values": [{}]}, "mark": {"type": "rule", "stroke": "#cccccc", "strokeWidth": 1}, "encoding": {"x": {"datum": {"month": 11, "date": 1}, "type": "temporal", "axis": null}, "y": {"datum": 10, "type": "quantitative", "axis": null}, "y2": {"datum": 7.96}}},
{"data": {"values": [{}]}, "mark": {"type": "rule", "stroke": "#cccccc", "strokeWidth": 1}, "encoding": {"x": {"datum": {"month": 12, "date": 1}, "type": "temporal", "axis": null}, "y": {"datum": 10, "type": "quantitative", "axis": null}, "y2": {"datum": 7.96}}},
{"data": {"values": [{}]}, "mark": {"type": "rule", "stroke": "#cccccc", "strokeWidth": 1}, "encoding": {"x": {"datum": {"year": 2013, "month": 1, "date": 1}, "type": "temporal", "axis": null}, "y": {"datum": 10, "type": "quantitative", "axis": null}, "y2": {"datum": 7.96}}},
{"data": {"values": [{}]}, "mark": {"type": "rule", "stroke": "#5b6773", "strokeWidth": 3},
 "encoding": {
  "x": {"datum": {"month": 1, "date": 1}, "type": "temporal", "axis": null},
  "x2": {"datum": {"year": 2013, "month": 1, "date": 1}},
  "y": {"datum": 58, "type": "quantitative", "axis": null}}},
{"data": {"name": "preise"},
 "transform": [{"filter": "datum.jahr !== '2018'"}],
 "mark": {"type": "line", "strokeWidth": 2.6},
 "encoding": {
  "x": {"field": "tag", "type": "temporal", "timeUnit": "monthdate", "axis": null},
  "y": {"field": "preis", "type": "quantitative",
   "axis": {"orient": "left", "values": [10,12,14,16,18,20,22,24,26,28,30,32,34,36,38,40,42,44,46,48,50,52,54,56,58,60,62,64,66,68,70,72,74,76,78,80,82,84,86,88,90,92,94,96,98,100,102,104,106,108,110],
    "grid": true, "gridColor": {"condition": {"test": "datum.value % 10 === 0", "value": "#9c9c9c"}, "value": "#d4d4d4"}, "gridWidth": 1,
    "ticks": false, "domain": false, "labelOverlap": false, "labelFlush": false,
    "labelExpr": "datum.value % 10 === 0 && datum.value >= 20 && datum.value <= 100 ? replace(format(datum.value, '.2f'), '.', ',') : ''",
    "labelFont": "DejaVu Sans", "labelFontSize": 24, "labelColor": "#555555", "labelPadding": 12,
    "title": "€uro/100 Liter", "titleAngle": 0, "titleAlign": "left", "titleBaseline": "middle", "titleX": -78, "titleY": -36, "titleFont": "DejaVu Sans", "titleFontSize": 24, "titleFontWeight": "normal", "titleColor": "#333333"}},
  "color": {"field": "jahr", "type": "nominal",
   "scale": {"domain": ["2018","2017","2016","2015","2014","2013","2012","2011","2010","2009","2008","2007","2006","2005","2004","2003"],
    "range": ["#E8541F","#c8c8c8","#c8c8c8","#c8c8c8","#c8c8c8","#4E7390","#c8c8c8","#c8c8c8","#c8c8c8","#c8c8c8","#3F9B6C","#c8c8c8","#c8c8c8","#c8c8c8","#c8c8c8","#F6FAF2"]},
   "legend": {"orient": "none", "legendX": 1562, "legendY": 463, "title": null, "symbolType": "stroke", "symbolSize": 1225, "symbolStrokeWidth": 2.5,
    "labelFont": "DejaVu Sans", "labelFontSize": 26, "labelFontWeight": "bold", "labelOffset": 12, "padding": 16, "rowPadding": 3,
    "strokeColor": "#a0a0a0", "fillColor": "#ffffff",
    "encode": {"labels": {"update": {"fill": {"signal": "indexof(['2018','2013','2008','2003'], datum.value) >= 0 ? '#666666' : '#c4c4c4'"}}}}}}}},
{"data": {"name": "preise"},
 "transform": [{"filter": "datum.jahr === '2018'"}],
 "mark": {"type": "line", "strokeWidth": 3.8},
 "encoding": {
  "x": {"field": "tag", "type": "temporal", "timeUnit": "monthdate", "axis": null},
  "y": {"field": "preis", "type": "quantitative",
   "axis": {"orient": "right", "values": [20,30,40,50,60,70,80,90,100], "grid": false, "ticks": false, "domain": false, "labelOverlap": false, "labelFlush": false,
    "labelExpr": "replace(format(datum.value * 30, '.2f'), '.', ',')",
    "labelFont": "DejaVu Sans", "labelFontSize": 24.5, "labelColor": "#555555", "labelPadding": 12,
    "title": "3000 l-Preis (€)", "titleAngle": 0, "titleAlign": "left", "titleBaseline": "middle", "titleX": -75, "titleY": -36, "titleFont": "DejaVu Sans", "titleFontSize": 24.5, "titleFontWeight": "normal", "titleColor": "#333333"}},
  "color": {"field": "jahr", "type": "nominal"}}},
{"data": {"values": [{}]}, "mark": {"type": "point", "filled": true, "fill": "#E8927E", "opacity": 0.55, "size": 1100},
 "encoding": {
  "x": {"datum": {"month": 4, "date": 9}, "type": "temporal", "axis": null},
  "y": {"datum": 63.0, "type": "quantitative", "axis": null}}},
{"data": {"values": [{}]}, "mark": {"type": "point", "filled": true, "fill": "#9a3a20", "opacity": 1, "size": 20},
 "encoding": {
  "x": {"datum": {"month": 4, "date": 9}, "type": "temporal", "axis": null},
  "y": {"datum": 63.0, "type": "quantitative", "axis": null}}},
{"data": {"values": [{}]}, "mark": {"type": "rect", "fill": "#ffffff", "fillOpacity": 0.85, "stroke": "#E0553A", "strokeWidth": 1.5},
 "encoding": {
  "x": {"datum": {"month": 2, "date": 29, "hours": 19}, "type": "temporal", "axis": null},
  "x2": {"datum": {"month": 5, "date": 20, "hours": 10}},
  "y": {"datum": 71.76, "type": "quantitative", "axis": null},
  "y2": {"datum": 65.65}}},
{"data": {"values": [{}]}, "mark": {"type": "point", "shape": "triangle-down", "filled": true, "fill": "#ffffff", "stroke": "#E0553A", "strokeWidth": 1.2, "opacity": 1, "size": 220},
 "encoding": {
  "x": {"datum": {"month": 4, "date": 9, "hours": 14}, "type": "temporal", "axis": null},
  "y": {"datum": 65.1, "type": "quantitative", "axis": null}}},
{"data": {"values": [{}]}, "mark": {"type": "text", "text": "9. Apr. 2018 : ", "font": "DejaVu Sans", "fontSize": 25, "fill": "#333333", "align": "left", "baseline": "middle"},
 "encoding": {
  "x": {"datum": {"month": 3, "date": 5, "hours": 12}, "type": "temporal", "axis": null},
  "y": {"datum": 68.7, "type": "quantitative", "axis": null}}},
{"data": {"values": [{}]}, "mark": {"type": "text", "text": "63,0", "font": "DejaVu Sans", "fontSize": 25, "fontWeight": "bold", "fill": "#333333", "align": "left", "baseline": "middle"},
 "encoding": {
  "x": {"datum": {"month": 4, "date": 25, "hours": 17}, "type": "temporal", "axis": null},
  "y": {"datum": 68.7, "type": "quantitative", "axis": null}}},
{"data": {"values": [{}]}, "mark": {"type": "rect", "fill": "#777777", "fillOpacity": 0.55},
 "encoding": {
  "x": {"datum": {"month": 6, "date": 10, "hours": 5}, "type": "temporal", "axis": null},
  "x2": {"datum": {"month": 10, "date": 20, "hours": 17}},
  "y": {"datum": 19.35, "type": "quantitative", "axis": null},
  "y2": {"datum": 13.33}}},
{"data": {"values": [{}]}, "mark": {"type": "rect", "fill": "#ffffff", "stroke": "#111111", "strokeWidth": 1.5},
 "encoding": {
  "x": {"datum": {"month": 6, "date": 9, "hours": 2}, "type": "temporal", "axis": null},
  "x2": {"datum": {"month": 10, "date": 19, "hours": 17}},
  "y": {"datum": 19.72, "type": "quantitative", "axis": null},
  "y2": {"datum": 13.7}}},
{"data": {"values": [{}]}, "mark": {"type": "text", "text": "Heizölpreis im Bundesdurchschnitt", "font": "DejaVu Sans", "fontSize": 21.5, "fontWeight": "bold", "fill": "#111111", "align": "left", "baseline": "middle"},
 "encoding": {
  "x": {"datum": {"month": 6, "date": 16, "hours": 22}, "type": "temporal", "axis": null},
  "y": {"datum": 17.96, "type": "quantitative", "axis": null}}},
{"data": {"values": [{}]}, "mark": {"type": "text", "text": "09.04.2018 - 63.00 € / 100 l (inkl. MwSt.)", "font": "DejaVu Sans", "fontSize": 20.3, "fontWeight": "bold", "fill": "#111111", "align": "left", "baseline": "middle"},
 "encoding": {
  "x": {"datum": {"month": 6, "date": 16, "hours": 22}, "type": "temporal", "axis": null},
  "y": {"datum": 15.28, "type": "quantitative", "axis": null}}},
{"data": {"values": [{}]}, "mark": {"type": "text", "text": "Entwicklung der Heizölpreise in Deutschland", "font": "DejaVu Sans", "fontSize": 23.6, "fontWeight": "bold", "fill": "#333333", "align": "center", "baseline": "middle"},
 "encoding": {
  "x": {"datum": {"month": 7, "date": 14, "hours": 5}, "type": "temporal", "axis": null},
  "y": {"datum": 114.26, "type": "quantitative", "axis": null}}},
{"data": {"values": [{}]}, "mark": {"type": "text", "text": "Copyright © 2018 TECSON ▫▫ www.tecson.de ▫▫ (Aktualisieren mit Strg+F5)", "font": "DejaVu Sans", "fontSize": 23, "fontWeight": "bold", "fill": "#222222", "align": "center", "baseline": "middle"},
 "encoding": {
  "x": {"datum": {"month": 7, "date": 14, "hours": 5}, "type": "temporal", "axis": null},
  "y": {"datum": 3.52, "type": "quantitative", "axis": null}}},
{"data": {"values": [{}]}, "mark": {"type": "rect", "stroke": "#444444", "strokeWidth": 1, "cornerRadius": 2, "fill": {"gradient": "linear", "x1": 0, "y1": 0, "x2": 0, "y2": 1, "stops": [{"offset": 0, "color": "#7d7d7d"}, {"offset": 1, "color": "#4d4d4d"}]}},
 "encoding": {
  "x": {"datum": {"year": 2013, "month": 2, "date": 13, "hours": 10}, "type": "temporal", "axis": null},
  "x2": {"datum": {"year": 2013, "month": 3, "date": 27}},
  "y": {"datum": 115.09, "type": "quantitative", "axis": null},
  "y2": {"datum": 110.83}}},
{"data": {"values": [{}]}, "mark": {"type": "text", "text": "☰", "font": "DejaVu Sans", "fontSize": 32, "fontWeight": "bold", "fill": "#ffffff", "align": "center", "baseline": "middle"},
 "encoding": {
  "x": {"datum": {"year": 2013, "month": 2, "date": 20, "hours": 22}, "type": "temporal", "axis": null},
  "y": {"datum": 113.0, "type": "quantitative", "axis": null}}},
{"data": {"values": [{}]}, "mark": {"type": "text", "text": "Druck", "font": "DejaVu Sans", "fontSize": 23, "fontWeight": "bold", "fill": "#ffffff", "align": "center", "baseline": "middle"},
 "encoding": {
  "x": {"datum": {"year": 2013, "month": 3, "date": 14}, "type": "temporal", "axis": null},
  "y": {"datum": 112.9, "type": "quantitative", "axis": null}}}
]
}
